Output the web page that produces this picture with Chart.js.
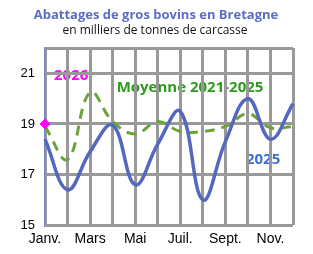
<!DOCTYPE html>
<html>
<head>
<meta charset="utf-8">
<script src="https://cdn.jsdelivr.net/npm/chart.js@4"></script>
<style>
  html, body { margin: 0; padding: 0; background: #fff; }
</style>
</head>
<body>
<canvas id="chart" width="313" height="254"></canvas>
<script>
const months = ['Janv.', 'Févr.', 'Mars', 'Avr.', 'Mai', 'Juin', 'Juil.', 'Août', 'Sept.', 'Oct.', 'Nov.', 'Déc.'];
const yTicks = [15, 17, 19, 21];
const values2025 = [18.4, 16.4, 17.9, 18.95, 16.6, 18.2, 19.5, 16.0, 18.3, 20.0, 18.4, 19.8];
const valuesAvg = [18.9, 17.6, 20.25, 19.1, 18.6, 19.1, 18.7, 18.7, 18.9, 19.4, 18.85, 18.9];
const values2026 = [19.0];

// titles + series names, drawn before the grid so the grid passes over them
const textPlugin = {
  id: 'texts',
  beforeDraw(chart) {
    const ctx = chart.ctx;
    const x = chart.scales.x, y = chart.scales.y;
    ctx.save();
    ctx.textAlign = 'center';
    ctx.textBaseline = 'middle';
    ctx.fillStyle = '#5a6fc4';
    ctx.font = 'bold 13px "Open Sans"';
    ctx.fillText('Abattages de gros bovins en Bretagne', 156, 15);
    ctx.fillStyle = '#111';
    ctx.font = '12px "Open Sans"';
    ctx.fillText('en milliers de tonnes de carcasse', 155, 31);

    ctx.textAlign = 'left';
    ctx.font = 'bold 15px "Open Sans"';
    ctx.fillStyle = '#ff00ff';
    ctx.fillText('2026', x.getPixelForValue(0) + 9, y.getPixelForValue(20.9));
    ctx.fillStyle = '#2e9a1e';
    ctx.font = 'bold 15px "Open Sans"';
    ctx.fillText('Moyenne 2021-2025', x.getPixelForValue(3) + 4, y.getPixelForValue(20.42));
    ctx.fillStyle = '#3f6fd2';
    ctx.font = 'bold 15px "Open Sans"';
    ctx.fillText('2025', x.getPixelForValue(9) - 2, y.getPixelForValue(17.58));
    ctx.restore();
  }
};

new Chart(document.getElementById('chart'), {
  type: 'line',
  data: {
    labels: months,
    datasets: [
      {
        label: '2026',
        data: values2026,
        borderColor: '#ff00ff',
        backgroundColor: '#ff00ff',
        pointStyle: 'rectRot',
        pointRadius: 5,
        showLine: false
      },
      {
        label: '2025',
        data: values2025,
        borderColor: '#5468c0',
        borderWidth: 3.5,
        pointRadius: 0,
        tension: 0.4
      },
      {
        label: 'Moyenne 2021-2025',
        data: valuesAvg,
        borderColor: '#6ca43a',
        borderWidth: 3,
        borderDash: [10, 7],
        pointRadius: 0,
        tension: 0.4
      }
    ]
  },
  options: {
    responsive: false,
    animation: false,
    devicePixelRatio: 1,
    layout: { padding: { top: 48, right: 20, left: 0, bottom: 0 } },
    plugins: {
      legend: { display: false },
      tooltip: { enabled: false }
    },
    scales: {
      x: {
        offset: false,
        grid: { color: '#999', lineWidth: 3, drawTicks: false },
        border: { display: false },
        ticks: {
          autoSkip: false,
          maxRotation: 0,
          padding: 6,
          color: '#000',
          font: { family: 'Liberation Sans', size: 14 },
          callback: (v, i) => (i % 2 === 0 ? months[i] : '')
        }
      },
      y: {
        min: 15,
        max: 22,
        afterFit(s) { s.width = 45; },
        afterBuildTicks(s) {
          s.ticks = yTicks.concat([22]).map(v => ({ value: v }));
        },
        grid: { color: '#999', lineWidth: 3, drawTicks: false },
        border: { display: true, color: '#7585c6', width: 1.5 },
        ticks: {
          padding: 10,
          color: '#000',
          font: { family: 'Liberation Sans', size: 13 },
          callback: v => (yTicks.includes(v) ? v : '')
        }
      }
    }
  },
  plugins: [textPlugin]
});
</script>
</body>
</html>
